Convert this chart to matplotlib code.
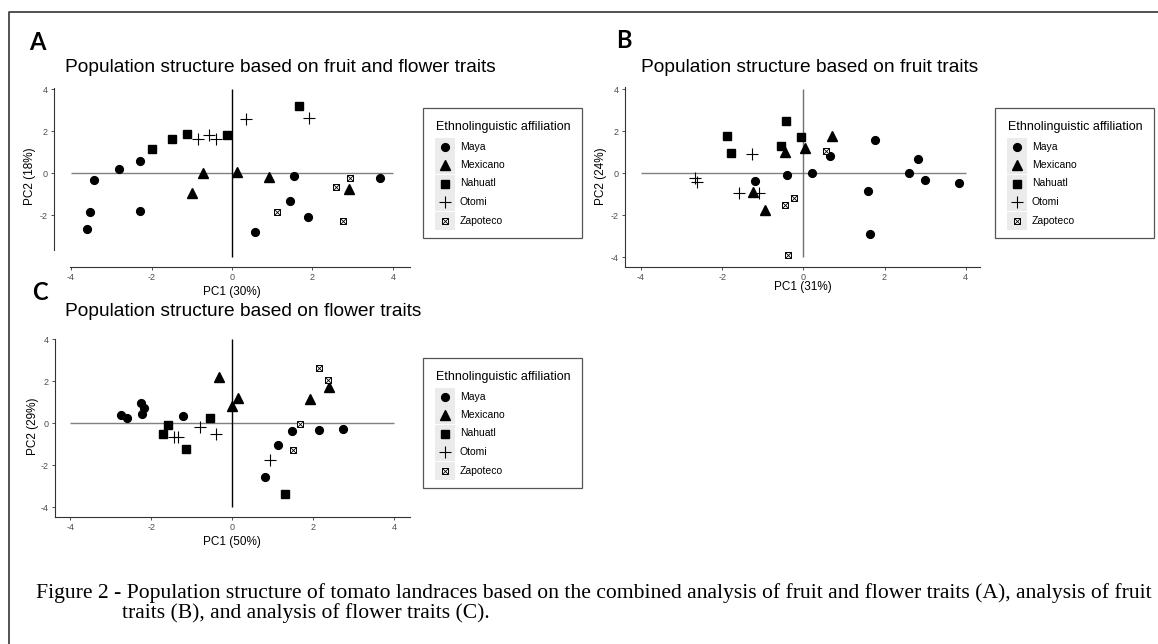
import matplotlib
matplotlib.use("Agg")
import matplotlib.pyplot as plt
from matplotlib.patches import Rectangle
from matplotlib.lines import Line2D
import numpy as np

plt.rcParams['font.family'] = ['Liberation Sans', 'DejaVu Sans']
plt.rcParams['axes.unicode_minus'] = False

# groups
groups = ['Maya', 'Mexicano', 'Nahuatl', 'Otomi', 'Zapoteco']

# Panel A: fruit and flower traits
a_group = ['Maya'] * 11 + ['Mexicano'] * 5 + ['Nahuatl'] * 5 + ['Otomi'] * 5 + ['Zapoteco'] * 4
a_pc1 = [-3.43, -2.81, -2.28, -3.52, -3.60, -2.28, 1.53, 1.44, 1.88, 0.56, 3.67,
         -0.73, -0.99, 0.12, 0.91, 2.90,
         -1.98, -1.49, -1.12, -0.13, 1.66,
         -0.85, -0.58, -0.39, 0.36, 1.91,
         2.58, 2.93, 1.13, 2.76]
a_pc2 = [-0.33, 0.17, 0.55, -1.86, -2.65, -1.83, -0.14, -1.34, -2.08, -2.80, -0.25,
         0.00, -0.96, 0.05, -0.17, -0.77,
         1.15, 1.64, 1.86, 1.80, 3.21,
         1.64, 1.80, 1.64, 2.58, 2.63,
         -0.66, -0.25, -1.87, -2.30]

# Panel B: fruit traits
b_group = ['Maya'] * 11 + ['Mexicano'] * 5 + ['Nahuatl'] * 5 + ['Otomi'] * 5 + ['Zapoteco'] * 4
b_pc1 = [-1.20, -0.41, 0.21, 0.66, 1.76, 1.59, 1.65, 2.60, 2.83, 2.99, 3.83,
         -0.45, 0.05, 0.71, -1.23, -0.95,
         -1.89, -1.77, -0.43, -0.56, -0.05,
         -1.26, -2.68, -2.62, -1.59, -1.09,
         0.55, -0.45, -0.23, -0.37]
b_pc2 = [-0.37, -0.10, 0.00, 0.79, 1.57, -0.87, -2.92, 0.00, 0.65, -0.32, -0.49,
         1.02, 1.17, 1.78, -0.89, -1.78,
         1.76, 0.95, 2.49, 1.29, 1.70,
         0.92, -0.25, -0.41, -0.95, -0.95,
         1.05, -1.52, -1.21, -3.90]

# Panel C: flower traits
c_group = ['Maya'] * 11 + ['Mexicano'] * 5 + ['Nahuatl'] * 5 + ['Otomi'] * 5 + ['Zapoteco'] * 4
c_pc1 = [-2.75, -2.60, -2.25, -2.17, -2.24, -1.22, 1.47, 1.13, 0.81, 2.13, 2.74,
         -0.34, -0.02, 0.13, 1.91, 2.38,
         -1.58, -1.71, -0.56, -1.15, 1.31,
         -1.43, -1.33, -0.79, -0.40, 0.93,
         2.13, 2.35, 1.66, 1.51]
c_pc2 = [0.39, 0.22, 0.95, 0.73, 0.44, 0.35, -0.39, -1.03, -2.56, -0.32, -0.27,
         2.20, 0.79, 1.18, 1.15, 1.71,
         -0.11, -0.51, 0.25, -1.25, -3.40,
         -0.68, -0.68, -0.19, -0.51, -1.77,
         2.62, 2.05, -0.06, -1.30]

W, H = 1158, 644


def fx(x):
    return x / W


def fy(y):
    return 1 - y / H


styles = {
    'Maya': dict(marker='o', ms=5.6, color='black', mec='black'),
    'Mexicano': dict(marker='^', ms=6.5, color='black', mec='black'),
    'Nahuatl': dict(marker='s', ms=5.6, color='black', mec='black'),
    'Otomi': dict(marker='+', ms=8, color='black', mew=0.8),
    'Zapoteco': dict(marker='s', ms=4.8, mfc='white', mec='black', mew=0.7),
}
zap_cross = dict(marker='x', ms=4.8, mew=0.6, color='black')


def plot_group(ax, x, y, g):
    ax.plot(x, y, linestyle='none', zorder=3, **styles[g])
    if g == 'Zapoteco':
        ax.plot(x, y, linestyle='none', zorder=4, **zap_cross)


def legend_marker(x, y, g):
    fig.add_artist(Line2D([x], [y], linestyle='none', transform=fig.transFigure,
                          zorder=3, **styles[g]))
    if g == 'Zapoteco':
        fig.add_artist(Line2D([x], [y], linestyle='none', transform=fig.transFigure,
                              zorder=4, **zap_cross))


fig = plt.figure(figsize=(W / 100, H / 100), dpi=100)


def make_panel(box, xlim, ylim, pc1, pc2, grp, title, title_xy, xlabel, xlab_y,
               ylabel, ylab_x, yticks, vline_color, left_bounds=None, bottom_bounds=None):
    left, top, right, bottom = box
    ax = fig.add_axes([fx(left), fy(bottom), (right - left) / W, (bottom - top) / H])
    ax.set_xlim(*xlim)
    ax.set_ylim(*ylim)
    ax.patch.set_alpha(0)
    for s in ['top', 'right']:
        ax.spines[s].set_visible(False)
    for s in ['left', 'bottom']:
        ax.spines[s].set_color('#333333')
        ax.spines[s].set_linewidth(0.8)
    if left_bounds:
        ax.spines['left'].set_bounds(*left_bounds)
    if bottom_bounds:
        ax.spines['bottom'].set_bounds(*bottom_bounds)
    ax.set_xticks([-4, -2, 0, 2, 4])
    ax.set_yticks(yticks)
    ax.tick_params(length=2.5, width=0.6, color='#333333', labelsize=6.5,
                   labelcolor='#4d4d4d', pad=2)
    ax.hlines(0, -4, 4, color='#808080', lw=1.0, zorder=1)
    ax.vlines(0, -4, 4, color=vline_color, lw=1.0, zorder=1)

    pc1 = np.array(pc1)
    pc2 = np.array(pc2)
    grp = np.array(grp)
    for g in groups:
        m = grp == g
        plot_group(ax, pc1[m], pc2[m], g)

    ax.set_xlabel(xlabel, fontsize=8.5, va='center')
    ax.xaxis.set_label_coords(0.5, (bottom - xlab_y) / (bottom - top))
    ax.set_ylabel(ylabel, fontsize=8.5, va='center')
    ax.yaxis.set_label_coords((ylab_x - left) / (right - left), 0.5)
    fig.text(fx(title_xy[0]), fy(title_xy[1]), title, fontsize=13.8,
             ha='left', va='center')
    return ax


def draw_legend(x0, y0):
    bw, bh = 159, 130
    fig.add_artist(Rectangle((fx(x0), fy(y0 + bh)), bw / W, bh / H,
                             transform=fig.transFigure, fill=False,
                             ec='#555555', lw=0.9))
    fig.text(fx(x0 + 13), fy(y0 + 19), 'Ethnolinguistic affiliation',
             fontsize=9, ha='left', va='center')
    for i, g in enumerate(groups):
        yc = y0 + 38.5 + 18.5 * i
        fig.add_artist(Rectangle((fx(x0 + 12), fy(yc + 9)), 20 / W, 18 / H,
                                 transform=fig.transFigure, color='#ebebeb', lw=0))
        legend_marker(fx(x0 + 22), fy(yc), g)
        fig.text(fx(x0 + 37), fy(yc), g, fontsize=7.5, ha='left', va='center')


make_panel((54.1, 84.8, 409.9, 267.1), (-4.42, 4.42), (-4.48, 4.2),
           a_pc1, a_pc2, a_group,
           'Population structure based on fruit and flower traits', (65, 68),
           'PC1 (30%)', 292, 'PC2 (18%)', 30, [-2, 0, 2, 4], 'black',
           left_bounds=(-3.67, 4.05), bottom_bounds=(-4.02, 4.42))

make_panel((625.1, 84.8, 979.9, 266.7), (-4.39, 4.35), (-4.46, 4.2),
           b_pc1, b_pc2, b_group,
           'Population structure based on fruit traits', (641, 67),
           'PC1 (31%)', 287, 'PC2 (24%)', 601, [-4, -2, 0, 2, 4], '#707070',
           left_bounds=(-4.46, 4.1))

make_panel((55, 334.8, 409.7, 516.7), (-4.38, 4.38), (-4.46, 4.2),
           c_pc1, c_pc2, c_group,
           'Population structure based on flower traits', (65, 312),
           'PC1 (50%)', 542, 'PC2 (29%)', 33, [-4, -2, 0, 2, 4], 'black',
           left_bounds=(-4.46, 4.0))

draw_legend(423, 108)
draw_legend(995, 108)
draw_legend(423, 358)

# panel letters
for letter, (x, y) in zip(['A', 'B', 'C'], [(37.5, 42), (624, 41), (40, 292)]):
    fig.text(fx(x), fy(y), letter, fontsize=17, fontweight='bold',
             family=['Lato', 'Liberation Sans'], ha='center', va='center')

# caption
fig.text(fx(36), fy(593),
         'Figure 2 - Population structure of tomato landraces based on the combined '
         'analysis of fruit and flower traits (A), analysis of fruit',
         family=['Liberation Serif'], fontsize=15.6, ha='left', va='center')
fig.text(fx(122), fy(613), 'traits (B), and analysis of flower traits (C).',
         family=['Liberation Serif'], fontsize=15.6, ha='left', va='center')

# outer frame (left and top edges)
fig.add_artist(Line2D([fx(9), fx(9), 1.0], [0.0, fy(12), fy(12)],
                      transform=fig.transFigure, color='#444444', lw=1.3))

fig.savefig('out.png', dpi=100)
